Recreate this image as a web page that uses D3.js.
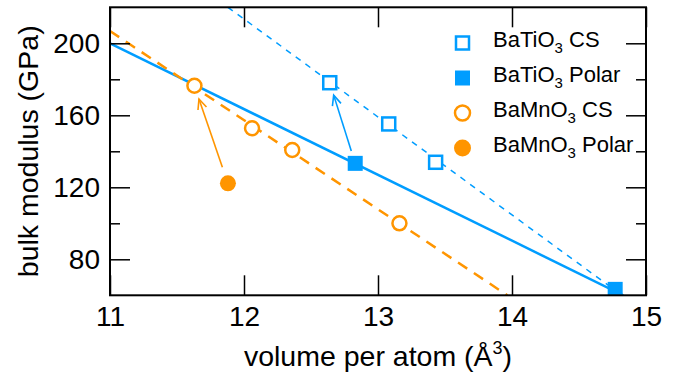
<!DOCTYPE html>
<html>
<head>
<meta charset="utf-8">
<script src="https://cdn.jsdelivr.net/npm/d3@7"></script>
<style>
  body { margin: 0; background: #fff; }
  svg { font-family: "Liberation Sans", Arial, Helvetica, sans-serif; }
</style>
</head>
<body>
<div id="chart"></div>
<script>
// volume per atom (Å^3), bulk modulus (GPa)
const btoCS = [[12.64, 178.1], [13.08, 155.2], [13.43, 133.9]];
const btoPolar = [[12.83, 133.3], [14.77, 63.3]];
const bmoCS = [[11.63, 176.4], [12.06, 152.8], [12.36, 140.7], [13.16, 100.0]];
const bmoPolar = [[11.88, 122.2]];

// fit lines (end points)
const btoCSFit = [[11.88, 220], [14.72, 65.5]];
const btoPolarFit = [[11, 200], [14.83, 60]];
const bmoCSFit = [[11, 206.8], [13.965, 60]];

// arrows polar -> CS
const arrowFrom = [[12.83, 133.3], [11.88, 122.2]];
const arrowTo = [[12.64, 178.1], [11.63, 176.4]];

const xTicks = [11, 12, 13, 14, 15];
const yTicks = [80, 120, 160, 200];
const yMinor = [100, 140, 180];

const legendFormula = ["BaTiO", "BaTiO", "BaMnO", "BaMnO"];
const legendSuffix = [" CS", " Polar", " CS", " Polar"];

const blue = "#009dff", orange = "#ff9500";

const W = 683, H = 380;
const mLeft = 110, mRight = 646, mTop = 7.3, mBottom = 295.3;

const svg = d3.select("#chart").append("svg")
  .attr("width", W).attr("height", H);

const x = d3.scaleLinear().domain([11, 15]).range([mLeft, mRight]);
const y = d3.scaleLinear().domain([60, 220]).range([mBottom, mTop]);

svg.append("clipPath").attr("id", "clip")
  .append("rect").attr("x", mLeft).attr("y", mTop)
  .attr("width", mRight - mLeft).attr("height", mBottom - mTop);

const plot = svg.append("g").attr("clip-path", "url(#clip)");
const line = d3.line().x(d => x(d[0])).y(d => y(d[1]));

// lines
plot.append("path").datum(btoCSFit).attr("d", line)
  .attr("fill", "none").attr("stroke", blue).attr("stroke-width", 1.5)
  .attr("stroke-dasharray", "6,6");
plot.append("path").datum(btoPolarFit).attr("d", line)
  .attr("fill", "none").attr("stroke", blue).attr("stroke-width", 2.5);
plot.append("path").datum(bmoCSFit).attr("d", line)
  .attr("fill", "none").attr("stroke", orange).attr("stroke-width", 2.5)
  .attr("stroke-dasharray", "11,8");

// arrows
const arrowColors = [blue, orange];
const gaps = [[13, 13], [17, 14]];
arrowFrom.forEach((f, i) => {
  const x1 = x(f[0]), y1 = y(f[1]), x2 = x(arrowTo[i][0]), y2 = y(arrowTo[i][1]);
  const dx = x2 - x1, dy = y2 - y1, len = Math.hypot(dx, dy);
  const ux = dx / len, uy = dy / len;
  const sx = x1 + ux * gaps[i][0], sy = y1 + uy * gaps[i][0];
  const tx = x2 - ux * gaps[i][1], ty = y2 - uy * gaps[i][1];
  const a = Math.atan2(uy, ux), hl = 11, ha = 0.42;
  const g = svg.append("g").attr("stroke", arrowColors[i]).attr("stroke-width", 1.6)
    .attr("fill", "none");
  g.append("line").attr("x1", sx).attr("y1", sy).attr("x2", tx).attr("y2", ty);
  g.append("path").attr("d",
    `M${tx - hl * Math.cos(a - ha)},${ty - hl * Math.sin(a - ha)}L${tx},${ty}` +
    `L${tx - hl * Math.cos(a + ha)},${ty - hl * Math.sin(a + ha)}`);
});

// markers
const sq = 13;
plot.selectAll(".btoCS").data(btoCS).enter().append("rect")
  .attr("x", d => x(d[0]) - sq / 2).attr("y", d => y(d[1]) - sq / 2)
  .attr("width", sq).attr("height", sq)
  .attr("fill", "#fff").attr("stroke", blue).attr("stroke-width", 2.5);
plot.selectAll(".btoPolar").data(btoPolar).enter().append("rect")
  .attr("x", d => x(d[0]) - 7.5).attr("y", d => y(d[1]) - 7.5)
  .attr("width", 15).attr("height", 15).attr("fill", blue);
plot.selectAll(".bmoCS").data(bmoCS).enter().append("circle")
  .attr("cx", d => x(d[0])).attr("cy", d => y(d[1])).attr("r", 7)
  .attr("fill", "#fff").attr("stroke", orange).attr("stroke-width", 2.5);
plot.selectAll(".bmoPolar").data(bmoPolar).enter().append("circle")
  .attr("cx", d => x(d[0])).attr("cy", d => y(d[1])).attr("r", 8)
  .attr("fill", orange);

// axes
function styleAxis(g) {
  g.select(".domain").remove();
  g.selectAll(".tick line").attr("stroke", "#000").attr("stroke-width", 1.5);
  g.selectAll("text").attr("fill", "#000").style("font-size", "28px")
    .style("font-family", "'Liberation Sans', Arial, Helvetica, sans-serif");
}
svg.append("g").attr("transform", `translate(${mLeft},0)`)
  .call(d3.axisLeft(y).tickValues(yTicks).tickSize(-20).tickPadding(10))
  .call(styleAxis);
svg.append("g").attr("transform", `translate(${mLeft},0)`)
  .call(d3.axisLeft(y).tickValues(yMinor).tickSize(-10).tickFormat(""))
  .call(styleAxis);
svg.append("g").attr("transform", `translate(${mRight},0)`)
  .call(d3.axisRight(y).tickValues(yTicks).tickSize(-20).tickFormat(""))
  .call(styleAxis);
svg.append("g").attr("transform", `translate(${mRight},0)`)
  .call(d3.axisRight(y).tickValues(yMinor).tickSize(-10).tickFormat(""))
  .call(styleAxis);
svg.append("g").attr("transform", `translate(0,${mBottom})`)
  .call(d3.axisBottom(x).tickValues(xTicks).tickSize(-20).tickPadding(11)
    .tickFormat(d3.format("d")))
  .call(styleAxis);
svg.append("g").attr("transform", `translate(0,${mTop})`)
  .call(d3.axisTop(x).tickValues(xTicks).tickSize(-20).tickFormat(""))
  .call(styleAxis);

// frame
svg.append("rect").attr("x", mLeft).attr("y", mTop)
  .attr("width", mRight - mLeft).attr("height", mBottom - mTop)
  .attr("fill", "none").attr("stroke", "#000").attr("stroke-width", 2);

// axis titles
const xt = svg.append("text").attr("x", (mLeft + mRight) / 2).attr("y", 366)
  .attr("text-anchor", "middle").style("font-size", "28.5px");
xt.append("tspan").text("volume per atom (Å");
xt.append("tspan").attr("dy", -12).style("font-size", "18px").text("3");
xt.append("tspan").attr("dy", 12).text(")");

svg.append("text")
  .attr("transform", `translate(38,${(mTop + mBottom) / 2}) rotate(-90)`)
  .attr("text-anchor", "middle").style("font-size", "28.5px")
  .text("bulk modulus (GPa)");

// legend
const lg = svg.append("g");
const lx = 462.5, ly0 = 43, dyRow = 35;
lg.append("rect").attr("x", lx - 6.5).attr("y", ly0 - 6.5).attr("width", 13).attr("height", 13)
  .attr("fill", "#fff").attr("stroke", blue).attr("stroke-width", 2.5);
lg.append("rect").attr("x", lx - 7.5).attr("y", ly0 + dyRow - 7.5).attr("width", 15).attr("height", 15)
  .attr("fill", blue);
lg.append("circle").attr("cx", lx).attr("cy", ly0 + 2 * dyRow).attr("r", 7.5)
  .attr("fill", "#fff").attr("stroke", orange).attr("stroke-width", 2.5);
lg.append("circle").attr("cx", lx).attr("cy", ly0 + 3 * dyRow).attr("r", 8.5)
  .attr("fill", orange);

legendFormula.forEach((f, i) => {
  const t = lg.append("text").attr("x", 493).attr("y", 46.7 + i * dyRow)
    .style("font-size", "22px").attr("fill", "#000");
  t.append("tspan").text(f);
  t.append("tspan").attr("dy", 6).style("font-size", "15px").text("3");
  t.append("tspan").attr("dy", -6).text(legendSuffix[i]);
});
</script>
</body>
</html>
